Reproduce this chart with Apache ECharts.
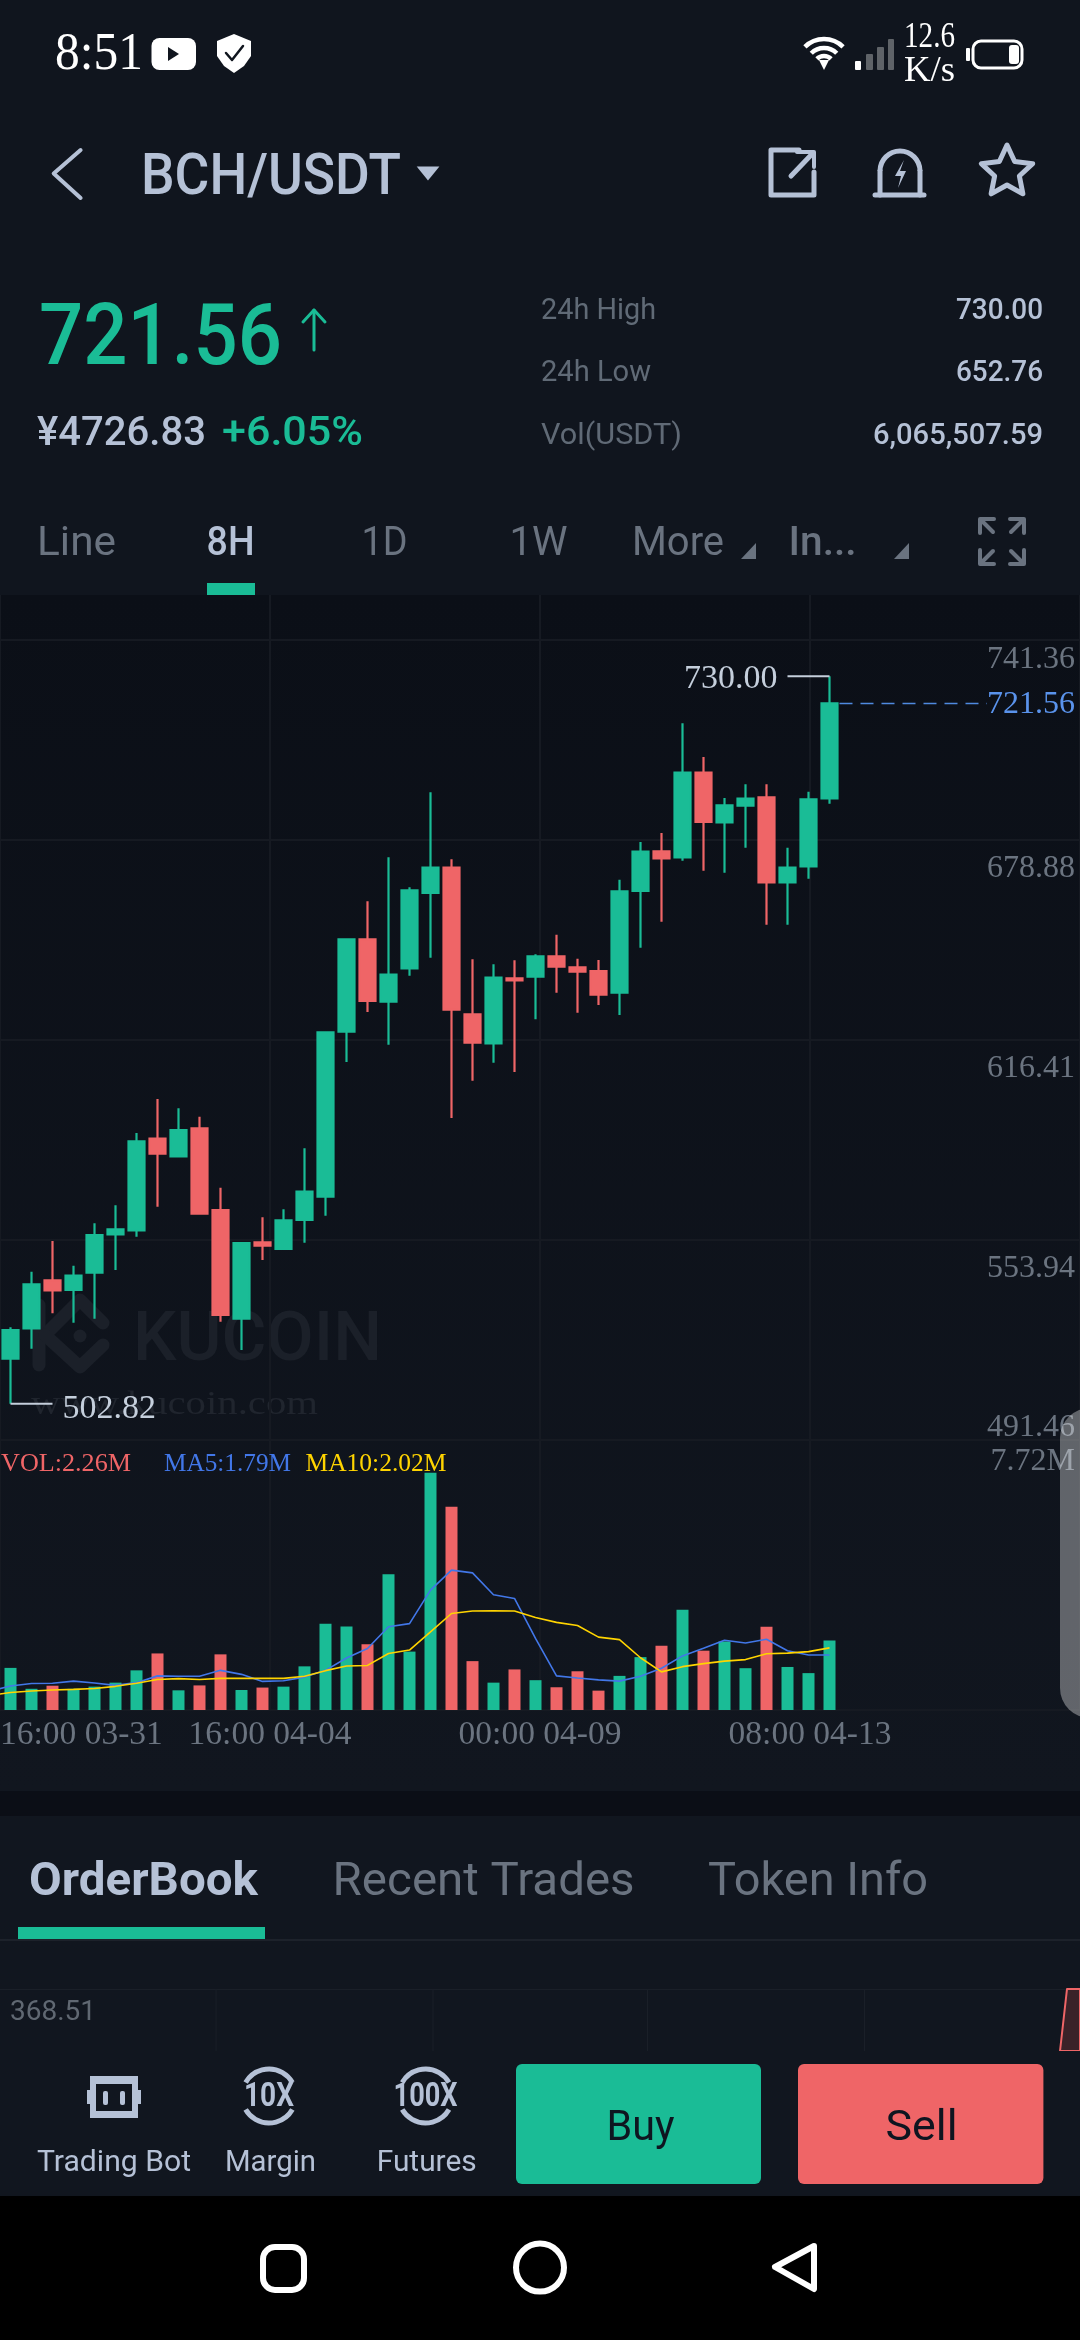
<!DOCTYPE html>
<html><head><meta charset="utf-8">
<style>html,body{margin:0;padding:0;background:#10151e}#c{width:1080px;height:2340px}</style>
<script src="https://cdn.jsdelivr.net/npm/echarts@6/dist/echarts.min.js"></script>
</head><body><div id="c"></div>
<script>
// index 0 is the candle just off the left edge: only its moving averages are visible
const categories = ['08:00 03-31','16:00 03-31','00:00 04-01','08:00 04-01','16:00 04-01','00:00 04-02','08:00 04-02','16:00 04-02','00:00 04-03','08:00 04-03','16:00 04-03','00:00 04-04','08:00 04-04','16:00 04-04','00:00 04-05','08:00 04-05','16:00 04-05','00:00 04-06','08:00 04-06','16:00 04-06','00:00 04-07','08:00 04-07','16:00 04-07','00:00 04-08','08:00 04-08','16:00 04-08','00:00 04-09','08:00 04-09','16:00 04-09','00:00 04-10','08:00 04-10','16:00 04-10','00:00 04-11','08:00 04-11','16:00 04-11','00:00 04-12','08:00 04-12','16:00 04-12','00:00 04-13','08:00 04-13','16:00 04-13'];
const opens  = [null,516.87,526.34,541.34,538.32,543.73,555.71,556.95,585.59,580.07,588.82,563.31,529.36,553.21,551.12,560.18,567.47,619.01,647.86,628.38,638.80,662.33,670.24,624.43,615.37,635.67,636.19,642.55,639.11,637.97,631.20,662.95,675.34,673.47,699.92,684.40,689.61,692.21,665.66,670.66,691.90];
const closes = [null,525.82,540.09,538.21,542.79,555.50,557.27,584.76,580.90,588.30,562.16,530.51,553.00,552.16,560.08,569.03,618.81,647.86,628.59,636.82,663.16,670.24,625.89,615.58,635.88,635.05,642.55,639.32,637.75,630.57,662.85,675.24,673.16,699.92,684.51,689.71,691.80,665.66,670.24,691.59,721.56];
const highs  = [null,526.65,544.04,553.62,545.92,559.14,564.77,587.36,597.98,595.06,592.46,570.28,553.00,561.01,563.51,582.57,618.81,647.86,659.73,673.47,664.10,693.78,672.85,641.61,640.05,641.30,643.17,649.31,641.82,641.40,666.49,678.26,681.07,715.33,704.81,692.00,696.28,696.28,676.49,693.98,730.00];
const lows   = [null,502.82,519.99,531.03,528.11,529.36,544.56,554.98,564.35,579.86,562.16,528.43,519.57,547.69,550.81,553.10,561.53,609.54,625.16,614.95,636.51,642.13,592.04,603.70,609.33,606.41,622.87,631.20,624.95,627.34,624.22,645.25,653.37,672.43,669.30,668.68,676.49,652.44,652.44,666.81,690.24];
const volumes= [null,1.37,0.69,0.79,0.69,0.76,0.89,1.29,1.84,0.64,0.80,1.81,0.65,0.73,0.76,1.42,2.81,2.72,2.14,4.42,1.90,7.72,6.61,1.59,0.89,1.32,0.97,0.74,1.26,0.63,1.11,1.72,2.09,3.26,1.93,2.23,1.36,2.71,1.40,1.20,2.26];
const ma5    = [0.61,0.78,0.86,0.87,0.94,0.88,0.80,0.89,1.11,1.10,1.10,1.29,1.16,0.93,0.95,1.07,1.29,1.69,2.00,2.71,2.81,3.90,4.55,4.46,3.75,3.63,2.33,1.11,1.04,0.98,0.94,1.10,1.36,1.76,2.01,2.27,2.18,2.30,1.93,1.79,1.79];
const ma10   = [0.47,0.57,0.62,0.65,0.67,0.70,0.77,0.87,0.99,1.02,0.99,1.03,1.03,1.03,1.03,1.10,1.28,1.43,1.45,1.84,1.95,2.54,3.14,3.22,3.23,3.22,3.01,2.85,2.75,2.37,2.29,1.70,1.24,1.41,1.51,1.59,1.64,1.83,1.85,1.90,2.02];
const priceTicks = ['491.46','553.94','616.41','678.88','741.36'];
const volumeTop = '7.72M';
const timeTicks = ['16:00 03-31','16:00 04-04','00:00 04-09','08:00 04-13',''];
const extremes = [[40,730.00,-1],[1,502.82,1]];
const lastPrice = [[40,721.56]];

const GREEN='#1abc96', RED='#ef6567', LIGHT='#b5c1d6', MUTED='#6a7380', SERIF='"Liberation Serif"', SANS='Roboto';
const AXIS='#6b7480', GRID='#161a22';

// interface chrome helpers
const ctx=document.createElement('canvas').getContext('2d');
function T(text,x,y,size,fill,o){o=o||{};const w=o.weight||400,f=o.family||SANS,font=w+' '+size+'px '+f;ctx.font=font;const m=ctx.measureText(text).width;const sx=o.w?o.w/m:1;
  return {type:'text',x:o.c?x-m*sx/2:x,y:y+size*0.09,scaleX:sx,z:o.z||1,style:{text:text,font:font,fill:fill,align:'left',verticalAlign:'middle'},silent:true};}
function R(x,y,w,h,fill,r,o){o=o||{};return {type:'rect',z:o.z||1,shape:{x:x,y:y,width:w,height:h,r:r||0},style:{fill:fill,stroke:o.stroke,lineWidth:o.lw},silent:true};}
function L(pts,stroke,lw,z){return {type:'polyline',z:z||1,shape:{points:pts},style:{stroke:stroke,lineWidth:lw,fill:null,lineJoin:'round',lineCap:'round'},silent:true};}
function P(pts,fill,z,stroke,lw){return {type:'polygon',z:z||1,shape:{points:pts},style:{fill:fill,stroke:stroke,lineWidth:lw,lineJoin:'round'},silent:true};}
function A(cx,cy,r,a,b,stroke,lw){return {type:'arc',z:1,shape:{cx:cx,cy:cy,r:r,startAngle:a*Math.PI/180,endAngle:b*Math.PI/180,clockwise:true},style:{stroke:stroke,lineWidth:lw,fill:null},silent:true};}
function C(cx,cy,r,fill,stroke,lw,z){return {type:'circle',z:z||1,shape:{cx:cx,cy:cy,r:r},style:{fill:fill,stroke:stroke,lineWidth:lw},silent:true};}
function star(cx,cy,ro,ri){const p=[];for(let i=0;i<10;i++){const a=-Math.PI/2+i*Math.PI/5,r=i%2?ri:ro;p.push([cx+r*Math.cos(a),cy+r*Math.sin(a)]);}return p;}

const chrome=[
 // panels
 R(0,0,1080,595,'#10151e',0,{z:-20}),
 R(0,595,1080,1196,{type:'linear',x:0,y:0,x2:0,y2:1,colorStops:[{offset:0,color:'#0b0f17'},{offset:1,color:'#11161f'}]},0,{z:-20}),
 R(0,1791,1080,25,'#0b0e16',0,{z:-20}),
 R(0,1816,1080,380,'#11161f',0,{z:-20}),
 R(0,2196,1080,144,'#000000',0,{z:-20}),
 // status bar
 T('8:51',55,50,53,'#ffffff',{family:SERIF,w:88}),
 R(151.5,38,44.5,32,'#ffffff',8),P([[168,47],[168,61],[179,54]],'#10151e'),
 P([[217,41],[234,34],[251,41],[251,56],[244,66],[234,73],[224,66],[217,56]],'#ffffff'),L([[226,53],[232,60],[243,46]],'#10151e',2.5),
 A(824,66,27,-135,-45,'#ffffff',4.5),A(824,66,18,-135,-45,'#ffffff',4.5),A(824,66,10,-135,-45,'#ffffff',4.5),P([[819,60],[829,60],[824,70]],'#ffffff'),
 R(855,61,6,9,'#ffffff',1),R(866,54,7,16,'#5f6368',1),R(877,47,7,23,'#5f6368',1),R(888,39,6,31,'#5f6368',1),
 T('12.6',904,34,36,'#ffffff',{family:SERIF,w:51}),T('K/s',904,68,36,'#ffffff',{family:SERIF,w:51}),
 R(973,41,49,27,null,8,{stroke:'#ffffff',lw:3}),R(1009,45,10,19,'#ffffff',3),R(966,48,4,13,'#ffffff',1),
 // header
 L([[80.6,150],[53.7,173.4],[80.6,198]],LIGHT,4),
 T('BCH/USDT',141,175,57,LIGHT,{w:260,weight:500}),
 P([[416.7,166.5],[439.4,166.5],[428,180.6]],LIGHT),
 L([[799,150],[771,150],[771,195],[814,195],[814,172]],LIGHT,5),L([[791,176],[813,153]],LIGHT,5),L([[797,152],[814,152],[814,167]],LIGHT,4),
 A(900,171,20,180,360,LIGHT,5),L([[880,171],[880,195]],LIGHT,5),L([[920,171],[920,195]],LIGHT,5),L([[875,195],[924,195]],LIGHT,5),
 P([[904,160],[895,176],[901,176],[898,188],[906,171],[900,171]],LIGHT),
 P(star(1007,172,27,13),null,1,LIGHT,5),
 // ticker
 T('721.56',39,335,85,GREEN,{w:243,weight:500}),
 L([[314,310],[314,350]],GREEN,3),L([[303,322],[314,310],[325,322]],GREEN,3),
 T('¥4726.83',37,431,40,LIGHT,{w:169,weight:500}),T('+6.05%',222,431,40,GREEN,{w:141,weight:500}),
 T('24h High',541,309,30,'#606a76',{w:115}),T('24h Low',541,371,30,'#606a76',{w:110}),T('Vol(USDT)',541,434,30,'#606a76',{w:141}),
 T('730.00',956,309,30,LIGHT,{w:87,weight:500}),T('652.76',956,371,30,LIGHT,{w:87,weight:500}),T('6,065,507.59',873,434,30,LIGHT,{w:170,weight:500}),
 // period tabs
 T('Line',37,541,41,MUTED,{w:79}),T('8H',206.6,541,41,LIGHT,{w:48,weight:500}),T('1D',361.6,541,41,MUTED,{w:46}),T('1W',509.6,541,41,MUTED,{w:58}),
 T('More',632,541,41,MUTED,{w:92}),P([[756,543],[756,559],[741,559]],MUTED),T('In...',788.6,541,41,MUTED,{w:68,weight:500}),P([[909,543],[909,559],[894,559]],MUTED),
 L([[994,519],[980,519],[980,533]],MUTED,4),L([[981,520],[993,532]],MUTED,4),L([[1010,519],[1024,519],[1024,533]],MUTED,4),L([[1023,520],[1011,532]],MUTED,4),
 L([[980,550],[980,564],[994,564]],MUTED,4),L([[981,563],[993,551]],MUTED,4),L([[1024,550],[1024,564],[1010,564]],MUTED,4),L([[1023,563],[1011,551]],MUTED,4),
 R(207,583,48,12,GREEN),
 // watermark
 T('KUCOIN',133,1337,68,'#1b2029',{w:249,weight:500,z:-5}),
 L([[39,1305],[39,1365]],'#1b2029',13,-5),L([[45,1335],[80,1300],[103,1323]],'#1b2029',13,-5),L([[45,1335],[80,1367],[103,1345]],'#1b2029',13,-5),C(80,1336,6.5,'#1b2029',null,0,-5),
 T('www.kucoin.com',31,1402,33,'#20252e',{family:SERIF,w:287,z:-5}),
 // pane legend
 T('VOL:2.26M',1,1462,26,'#ef6567',{family:SERIF,w:130}),T('MA5:1.79M',164,1462,26,'#4277e8',{family:SERIF,w:127}),T('MA10:2.02M',305.5,1462,26,'#ffd400',{family:SERIF,w:141}),
 // lower tabs
 T('OrderBook',29,1879,46,LIGHT,{w:229,weight:700}),T('Recent Trades',332.6,1879,46,MUTED,{w:302}),T('Token Info',708,1879,46,MUTED,{w:220}),
 R(18,1927,247,12,GREEN),R(0,1939,1080,2,'#1d222b'),
 // depth stub
 R(0,1989,1080,1,'#1a1f28'),R(215.6,1989,1,62,'#1a1f28'),R(432.5,1989,1,62,'#1a1f28'),R(647,1989,1,62,'#1a1f28'),R(864,1989,1,62,'#1a1f28'),
 T('368.51',10,2010,28,'#606872',{w:86}),
 P([[1060,2051],[1067,1989],[1080,1989],[1080,2051]],'#3a2228',1,RED,2),
 R(0,2051,1080,145,'#11161f'),
 // toolbar
 R(90,2076,48,42,LIGHT,0),R(87,2090,3,14,LIGHT),R(138,2090,3,14,LIGHT),R(96,2084,36,27,'#11161f',0),R(103,2091,5,14,LIGHT,2),R(120,2091,5,14,LIGHT,2),
 A(269,2096,27,-150,-30,LIGHT,5),A(269,2096,27,30,150,LIGHT,5),T('10X',269,2094,34,LIGHT,{w:50,c:1,weight:700}),
 A(425.6,2096,27,-150,-30,LIGHT,5),A(425.6,2096,27,30,150,LIGHT,5),T('100X',425.6,2094,34,LIGHT,{w:64,c:1,weight:700}),
 T('Trading Bot',37,2161,30,LIGHT,{w:154}),T('Margin',225,2161,30,LIGHT,{w:91}),T('Futures',376.7,2161,30,LIGHT,{w:100}),
 R(516,2064,245,120,GREEN,6),R(798,2064,245.4,120,RED,6),
 T('Buy',640.5,2126,42,'#0e1520',{c:1,w:68}),T('Sell',921.5,2126,42,'#0e1520',{c:1,w:72}),
 // navigation bar
 R(263,2247,41,43,null,12,{stroke:'#ffffff',lw:6}),C(540,2267.6,24,null,'#ffffff',6),P([[814,2246],[775,2267],[814,2289]],null,1,'#ffffff',6),
 // edge handle
 R(1060,1408,60,310,'rgba(255,255,255,0.34)',30,{z:50})
];

function tickStyle(pad){return {fontFamily:SERIF,fontSize:32,color:AXIS,padding:pad};}
const padded=categories.concat(new Array(12).fill(''));

const option={
 backgroundColor:'transparent',animation:false,tooltip:{show:false},
 graphic:{elements:chrome},
 grid:[
  {left:-21,width:1113,top:640,height:800,outerBoundsMode:'none'},
  {left:-21,width:1113,top:1472.7,height:237.3,outerBoundsMode:'none'},
  {left:0,width:1080,top:595,height:1115,outerBoundsMode:'none'}
 ],
 xAxis:[
  {type:'category',gridIndex:0,data:padded,boundaryGap:true,axisLine:{show:false},axisTick:{show:false},axisLabel:{show:false},splitLine:{show:false}},
  {type:'category',gridIndex:1,data:padded,boundaryGap:true,axisLine:{show:true,lineStyle:{color:GRID,width:2}},axisTick:{show:false},axisLabel:{show:false},splitLine:{show:false}},
  {type:'value',gridIndex:2,min:0,max:4,interval:1,axisLine:{show:false},axisTick:{show:false},splitLine:{show:true,lineStyle:{color:GRID,width:2}},
   axisLabel:{show:true,margin:8,alignMinLabel:'left',fontFamily:SERIF,fontSize:33.5,color:AXIS,formatter:v=>timeTicks[v]||''}}
 ],
 yAxis:[
  {type:'value',gridIndex:0,position:'right',min:491.46,max:741.36,interval:62.475,scale:true,axisLine:{show:false},axisTick:{show:false},splitLine:{show:true,lineStyle:{color:GRID,width:2}},
   axisLabel:{inside:true,margin:17,formatter:function(v,i){return '{r'+i+'|'+priceTicks[i]+'}';},
    rich:{r0:tickStyle([0,0,24,0]),r1:tickStyle([58,0,0,0]),r2:tickStyle([58,0,0,0]),r3:tickStyle([58,0,0,0]),r4:tickStyle([40,0,0,0])}}},
  {type:'value',gridIndex:1,position:'right',min:0,max:7.72,interval:7.72,axisLine:{show:false},axisTick:{show:false},splitLine:{show:false},
   axisLabel:{inside:true,margin:17,formatter:v=>v>0?'{v|'+volumeTop+'}':'',rich:{v:tickStyle([0,0,23,0])}}},
  {type:'value',gridIndex:2,min:0,max:1,show:false,splitLine:{show:false}}
 ],
 series:[
  {type:'candlestick',name:'BCH/USDT',xAxisIndex:0,yAxisIndex:0,barWidth:16,
   data:categories.map((c,i)=>opens[i]==null?'-':[opens[i],closes[i],lows[i],highs[i]]),
   itemStyle:{color:GREEN,color0:RED,borderColor:GREEN,borderColor0:RED,borderWidth:2.2}},
  {type:'custom',name:'extremes',xAxisIndex:0,yAxisIndex:0,data:extremes,encode:{x:0,y:1},clip:false,z:5,silent:true,
   renderItem:function(p,api){const c=api.coord([api.value(0),api.value(1)]),d=api.value(2);
    return {type:'group',children:[
     {type:'line',shape:{x1:c[0],y1:c[1],x2:c[0]+d*42,y2:c[1]},style:{stroke:'#c5cfdc',lineWidth:2}},
     {type:'text',style:{text:api.value(1).toFixed(2),x:c[0]+d*52,y:c[1]+(d>0?5:3),align:d>0?'left':'right',verticalAlign:'middle',font:'34px '+SERIF,fill:'#c5cfdc'}}
    ]};}},
  {type:'custom',name:'last price',xAxisIndex:0,yAxisIndex:0,data:lastPrice,encode:{x:0,y:1},clip:false,z:5,silent:true,
   renderItem:function(p,api){const c=api.coord([api.value(0),api.value(1)]);
    return {type:'group',children:[
     {type:'line',shape:{x1:c[0]+10,y1:c[1],x2:987,y2:c[1]},style:{stroke:'#4f8ae0',lineWidth:1.5,lineDash:[13,8]}},
     {type:'text',style:{text:api.value(1).toFixed(2),x:1075,y:c[1]+1,align:'right',verticalAlign:'middle',font:'32px '+SERIF,fill:'#5a93ec'}}
    ]};}},
  {type:'bar',name:'VOL',xAxisIndex:1,yAxisIndex:1,barWidth:12,
   data:categories.map((c,i)=>volumes[i]==null?'-':{value:volumes[i],itemStyle:{color:closes[i]>=opens[i]?GREEN:RED}})},
  {type:'line',name:'MA5',xAxisIndex:1,yAxisIndex:1,data:ma5,showSymbol:false,smooth:false,lineStyle:{color:'#4277e8',width:1.6},z:4},
  {type:'line',name:'MA10',xAxisIndex:1,yAxisIndex:1,data:ma10,showSymbol:false,smooth:false,lineStyle:{color:'#ffd400',width:1.6},z:4}
 ]
};
const chart=echarts.init(document.getElementById('c'),null,{renderer:'canvas',width:1080,height:2340,devicePixelRatio:1});
chart.setOption(option);
</script></body></html>
